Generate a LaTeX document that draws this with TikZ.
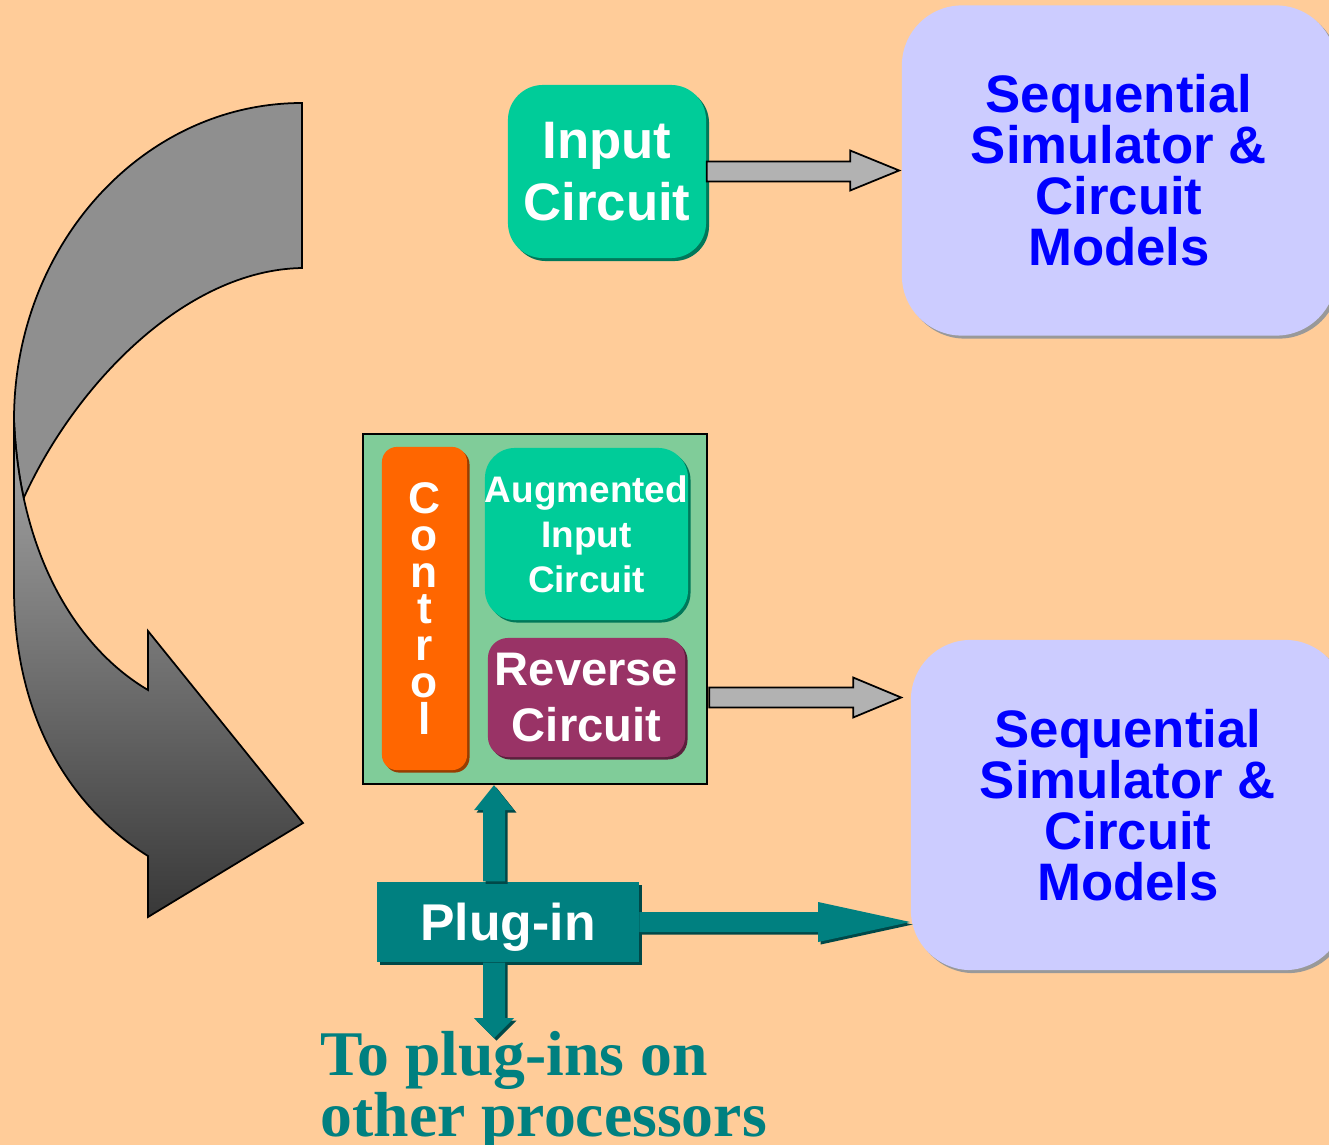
\documentclass[tikz,border=0pt]{standalone}
\usepackage{fontspec}
\setmainfont{Liberation Sans}
\newfontfamily\timesfont{Liberation Serif}
\usetikzlibrary{calc,shadows}

\definecolor{peach}{RGB}{255,204,153}
\definecolor{sea}{RGB}{0,204,153}
\definecolor{seadark}{RGB}{0,120,90}
\definecolor{lavender}{RGB}{204,204,255}
\definecolor{podgreen}{RGB}{128,204,153}
\definecolor{ctrlorange}{RGB}{255,102,0}
\definecolor{plum}{RGB}{153,51,102}
\definecolor{tealc}{RGB}{0,128,128}
\definecolor{tealdark}{RGB}{0,72,72}
\definecolor{simblue}{RGB}{0,0,255}
\definecolor{pipegray}{RGB}{178,178,178}
\definecolor{ribbonback}{RGB}{143,143,143}

\begin{document}
\begin{tikzpicture}[x=0.01cm,y=-0.01cm,
card/.style={rounded corners=#1,inner sep=0pt,align=center,text=white},
simbox/.style={fill=lavender,rounded corners=0.6cm,minimum width=4.34cm,minimum height=3.3cm,
    align=center,text=simblue,font=\bfseries\fontsize{15}{14.5}\selectfont,
    drop shadow={shadow xshift=0.03cm,shadow yshift=-0.03cm,fill=black!40,opacity=1}},
pipe/.style={draw=black,line width=0.5pt,fill=pipegray},
tealpipe/.style={fill=tealc,drop shadow={shadow xshift=0.025cm,shadow yshift=-0.025cm,fill=tealdark,opacity=1}}]

\useasboundingbox (0,0) rectangle (1329,1145);
\fill[peach] (0,0) rectangle (1329,1145);

% curved arrow, back part then front part
\draw[line width=0.5pt,fill=ribbonback] (302,103) .. controls (143,103) and (14,245) .. (14,420)
    .. controls (15.2,448) and (18.56,474) .. (23.7,498)
    .. controls (75,385) and (185,270) .. (302,268) -- cycle;
\draw[line width=0.5pt,top color=gray!68,bottom color=black!78] (14,420) -- (14,588)
    .. controls (14,740) and (90,820) .. (148,856) -- (148,917) -- (303,823) -- (148,631) -- (148,690)
    .. controls (93.6,658) and (44.32,594) .. (23.7,498)
    .. controls (18.56,474) and (15.2,448) .. (14,420) -- cycle;

% top row
\node (inp) [card=0.35cm,fill=sea,minimum width=1.98cm,minimum height=1.73cm,
    font=\bfseries\fontsize{15}{17.6}\selectfont,
    drop shadow={shadow xshift=0.03cm,shadow yshift=-0.03cm,fill=seadark,opacity=1}]
    at (607,171.5) {Input\\Circuit};
\node (simA) [simbox] at (1119,170.5) {Sequential\\Simulator \&\\Circuit\\Models};

% processor with its parts
\node (pod) [draw=black,line width=0.6pt,fill=podgreen,minimum width=3.44cm,minimum height=3.5cm] at (535,609) {};
\node (ctrl) [card=0.15cm,fill=ctrlorange,minimum width=0.85cm,minimum height=3.23cm,
    font=\bfseries\fontsize{12.6}{10.5}\selectfont,
    drop shadow={shadow xshift=0.025cm,shadow yshift=-0.025cm,fill=ctrlorange!60!black,opacity=1}]
    at (424.5,608.5) {C\\o\\n\\t\\r\\o\\l};
\node (aug) [card=0.3cm,fill=sea,minimum width=1.97cm,minimum height=1.72cm,
    font=\bfseries\fontsize{10.5}{12.8}\selectfont,
    drop shadow={shadow xshift=0.025cm,shadow yshift=-0.025cm,fill=seadark,opacity=1}]
    at (586.5,534) {Augmented\\Input\\Circuit};
\node (rev) [card=0.2cm,fill=plum,minimum width=1.97cm,minimum height=1.19cm,
    font=\bfseries\fontsize{13.4}{16}\selectfont,
    drop shadow={shadow xshift=0.025cm,shadow yshift=-0.025cm,fill=plum!60!black,opacity=1}]
    at (586.5,697.5) {Reverse\\Circuit};

\node (simB) [simbox] at (1128,805) {Sequential\\Simulator \&\\Circuit\\Models};

\node (plug) [fill=tealc,text=white,minimum width=2.61cm,minimum height=0.8cm,text depth=0pt,
    font=\bfseries\fontsize{14.7}{17}\selectfont,
    drop shadow={shadow xshift=0.03cm,shadow yshift=-0.03cm,fill=tealdark,opacity=1}]
    at (508,922) {Plug-in};

\node (others) [anchor=north west,inner sep=0pt,align=left,text=tealc,
    font=\timesfont\bfseries\fontsize{18.1}{17.1}\selectfont] at (320,1031)
    {To plug-ins on\\other processors};

% gray arrows into the simulators
\draw[pipe] ($(inp.east)+(0,-10)$) -| ($(simA.west)+(-51,-20)$) -- ($(simA.west)+(-2,0)$)
    -- ($(simA.west)+(-51,20)$) |- ($(inp.east)+(0,10)$) -- cycle;
\coordinate (revtip) at ($(simB.west |- rev)+(-9,0)$);
\draw[pipe] ($(pod.east |- rev)+(1,-10)$) -| ($(revtip)+(-48,-20)$) -- (revtip)
    -- ($(revtip)+(-48,20)$) |- ($(pod.east |- rev)+(1,10)$) -- cycle;

% plug-in connections
\coordinate (riser) at ($(plug.north)+(-14,0)$);
\coordinate (faller) at ($(plug.south)+(-14,0)$);
\coordinate (tip) at (494,1038);
\fill[tealpipe] ($(riser)+(-11,0)$) |- ($(riser |- pod.south)+(-20,25)$) -- (riser |- pod.south)
    -- ($(riser |- pod.south)+(20,25)$) -| ($(riser)+(11,0)$) -- cycle;
\fill[tealpipe] ($(faller)+(-11,0)$) |- ($(tip)+(-20,-20)$) -- (tip)
    -- ($(tip)+(20,-20)$) -| ($(faller)+(11,0)$) -- cycle;
\fill[tealpipe] ($(plug.east)+(0,-10)$) -| ($(simB.west |- plug)+(-92,-20)$) -- (simB.west |- plug)
    -- ($(simB.west |- plug)+(-92,20)$) |- ($(plug.east)+(0,10)$) -- cycle;
\end{tikzpicture}
\end{document}
